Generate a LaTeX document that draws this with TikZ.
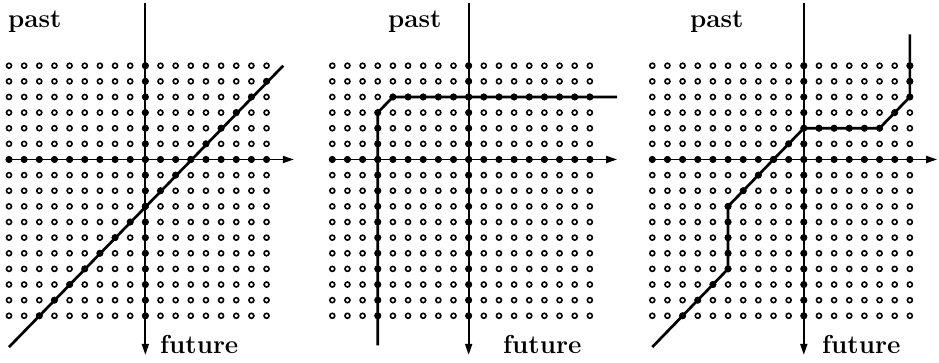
\documentclass[tikz,border=0pt]{standalone}
\usepackage{fontspec}
\usetikzlibrary{arrows.meta}
\begin{document}
\begin{tikzpicture}[x=1pt,y=-1pt]
\tikzset{
  opendot/.style={circle, draw, line width=1.6pt, minimum size=5pt, inner sep=0pt, fill=white},
  fulldot/.style={circle, fill, minimum size=7pt, inner sep=0pt},
  axisline/.style={line width=1.8pt, -{Triangle[length=11pt,width=7pt]}},
  pathline/.style={line width=2.7pt, line join=round},
  lbl/.style={font=\fontsize{26}{30}\selectfont\bfseries, inner sep=0pt, anchor=base west},
  grid/.style={shift={#1}, x=15.15pt, y=-15.63pt}
}
\useasboundingbox (0,0) rectangle (939,362);

% ---------------- Panel 1 ----------------
\begin{scope}[grid={(9pt,-65.7pt)}]
  \foreach \c in {0,...,17} \foreach \r in {0,...,16} \node[opendot] at (\c,\r) {};
  \coordinate (a1t) at (9,-4);    \coordinate (a1b) at (9,18.5);
  \coordinate (a1l) at (-0.2,6);  \coordinate (a1r) at (18.8,6);
  \coordinate (p1a) at (18.1,0);  \coordinate (p1b) at (0,18);
  \draw[pathline] (p1a) -- (p1b);
  \draw[axisline] (a1t) -- (a1b);
  \draw[axisline] (a1l) -- (a1r);
  \foreach \r in {0,...,16} \node[fulldot] at (9,\r) {};
  \foreach \c in {0,...,17} \node[fulldot] at (\c,6) {};
  \foreach \c in {2,...,17} \node[fulldot] at (\c,{18-\c}) {};
\end{scope}
\node[lbl] (past1) at (8,27.5) {past};
\node[lbl] (fut1) at (160,353) {future};

% ---------------- Panel 2 ----------------
\begin{scope}[grid={(332.3pt,-65.7pt)}]
  \foreach \c in {0,...,17} \foreach \r in {0,...,16} \node[opendot] at (\c,\r) {};
  \coordinate (a2t) at (9,-4);    \coordinate (a2b) at (9,18.5);
  \coordinate (a2l) at (-0.2,6);  \coordinate (a2r) at (18.8,6);
  \coordinate (p2a) at (3,17.9);  \coordinate (p2b) at (3,3);
  \coordinate (p2c) at (4,2);     \coordinate (p2d) at (18.8,2);
  \draw[pathline] (p2a) -- (p2b) -- (p2c) -- (p2d);
  \draw[axisline] (a2t) -- (a2b);
  \draw[axisline] (a2l) -- (a2r);
  \foreach \r in {0,...,16} \node[fulldot] at (9,\r) {};
  \foreach \c in {0,...,17} \node[fulldot] at (\c,6) {};
  \foreach \r in {3,...,16} \node[fulldot] at (3,\r) {};
  \foreach \c in {4,...,17} \node[fulldot] at (\c,2) {};
\end{scope}
\node[lbl] (past2) at (388,27.5) {past};
\node[lbl] (fut2) at (503,353) {future};

% ---------------- Panel 3 ----------------
\begin{scope}[grid={(652.3pt,-65.7pt)}]
  \foreach \c in {0,...,17} \foreach \r in {0,...,16} \node[opendot] at (\c,\r) {};
  \coordinate (a3t) at (10,-4);   \coordinate (a3b) at (10,18.5);
  \coordinate (a3l) at (-0.2,6);  \coordinate (a3r) at (18.8,6);
  \coordinate (p3a) at (17,-2);   \coordinate (p3b) at (17,2);
  \coordinate (p3c) at (15,4);    \coordinate (p3d) at (10,4);
  \coordinate (p3e) at (5,9);     \coordinate (p3f) at (5,13);
  \coordinate (p3g) at (0,18);
  \draw[pathline] (p3a) -- (p3b) -- (p3c) -- (p3d) -- (p3e) -- (p3f) -- (p3g);
  \draw[axisline] (a3t) -- (a3b);
  \draw[axisline] (a3l) -- (a3r);
  \foreach \r in {0,...,16} \node[fulldot] at (10,\r) {};
  \foreach \c in {0,...,17} \node[fulldot] at (\c,6) {};
  \foreach \p in {(17,0),(17,1),(17,2),(16,3),(15,4),(14,4),(13,4),(12,4),(11,4),
                  (9,5),(8,6),(7,7),(6,8),(5,9),(5,10),(5,11),(5,12),(5,13),
                  (4,14),(3,15),(2,16)}
    \node[fulldot] at \p {};
\end{scope}
\node[lbl] (past3) at (690,27.5) {past};
\node[lbl] (fut3) at (822,353) {future};
\end{tikzpicture}
\end{document}
